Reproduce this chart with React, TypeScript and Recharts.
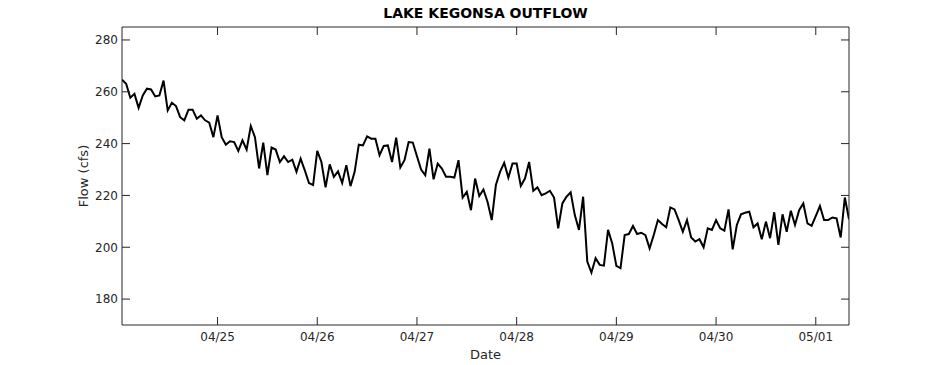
import React from 'react';
import { LineChart, Line, XAxis, YAxis } from 'recharts';

// hourly outflow readings, starting 04/24 01:00
const flow = [
	264.7, 263.1, 257.7, 259.2, 253.8, 258.6, 261.2, 260.9, 258.2, 258.6,
	264.3, 252.8, 255.8, 254.5, 250.2, 249.0, 253.1, 253.1, 249.6, 250.9,
	249.0, 248.1, 242.5, 250.9, 242.5, 239.6, 240.9, 240.6, 237.2, 241.3,
	237.7, 246.8, 242.5, 230.4, 240.4, 227.8, 238.5, 237.7, 232.9, 235.1,
	232.9, 233.8, 229.1, 234.2, 229.7, 224.8, 224.0, 237.2, 232.9, 223.1,
	232.0, 227.2, 229.3, 224.8, 231.7, 223.6, 229.1, 239.6, 239.3, 242.8,
	241.9, 241.9, 235.5, 239.1, 239.3, 232.9, 242.3, 230.8, 233.6, 240.6,
	240.4, 235.1, 230.0, 227.8, 238.1, 226.2, 232.3, 230.4, 227.2, 227.2,
	226.9, 233.6, 219.2, 221.4, 214.3, 226.5, 219.8, 222.3, 217.5, 210.5,
	224.0, 229.1, 232.6, 226.9, 232.3, 232.3, 223.7, 226.5, 232.9, 221.8,
	223.1, 220.1, 220.8, 221.8, 219.2, 207.3, 216.9, 219.5, 221.2, 212.4,
	206.7, 219.5, 194.5, 190.2, 195.8, 193.2, 192.9, 206.7, 201.5, 192.8,
	191.9, 204.7, 205.1, 208.2, 205.1, 205.6, 204.7, 199.6, 204.7, 210.5,
	209.0, 207.7, 215.4, 214.6, 210.5, 206.0, 210.5, 203.8, 202.2, 203.1,
	200.0, 207.3, 206.7, 210.5, 207.3, 206.4, 214.6, 199.2, 208.6, 212.7,
	213.3, 213.7, 207.7, 209.2, 203.1, 209.9, 203.5, 213.5, 200.9, 212.7,
	206.0, 214.1, 208.6, 214.3, 216.9, 209.2, 208.3, 212.0, 215.9, 210.5,
	210.5, 211.5, 211.2, 203.8, 219.2, 210.8
];

// tick positions in hours since 04/24 00:00
const dayTicks = [24, 48, 72, 96, 120, 144, 168];
const dayLabels = ['04/25', '04/26', '04/27', '04/28', '04/29', '04/30', '05/01'];
const flowTicks = [180, 200, 220, 240, 260, 280];

const data = flow.map((f, i) => ({ hour: i + 1, flow: f }));

const ink = '#262626';
const font = 'DejaVu Sans, sans-serif';
const tickStyle = { fontSize: 12, fill: ink, fontFamily: font };

export default function App() {
	return (
		<div style={{ position: 'absolute', left: 0, top: 0, width: 938, height: 365, background: '#fff' }}>
			<LineChart
				width={938}
				height={365}
				data={data}
				margin={{ top: 26, right: 88, left: 0, bottom: 0 }}
			>
				<XAxis
					xAxisId="b"
					dataKey="hour"
					type="number"
					domain={[1, 176]}
					ticks={dayTicks}
					tickFormatter={(v) => dayLabels[dayTicks.indexOf(v)]}
					height={40}
					tickSize={-8}
					tickMargin={15}
					tick={tickStyle}
					stroke={ink}
					allowDataOverflow
				/>
				<XAxis
					xAxisId="t"
					orientation="top"
					dataKey="hour"
					type="number"
					domain={[1, 176]}
					ticks={dayTicks}
					height={1}
					tickSize={-8}
					tickFormatter={() => ''}
					stroke={ink}
					allowDataOverflow
				/>
				<YAxis
					yAxisId="l"
					domain={[170, 285]}
					ticks={flowTicks}
					width={122}
					tickSize={-8}
					tickMargin={12}
					tick={tickStyle}
					stroke={ink}
					allowDataOverflow
				/>
				<YAxis
					yAxisId="r"
					orientation="right"
					domain={[170, 285]}
					ticks={flowTicks}
					width={1}
					tickSize={-8}
					tickFormatter={() => ''}
					stroke={ink}
					allowDataOverflow
				/>
				<Line
					xAxisId="t"
					yAxisId="r"
					dataKey="flow"
					stroke="none"
					dot={false}
					isAnimationActive={false}
				/>
				<Line
					xAxisId="b"
					yAxisId="l"
					dataKey="flow"
					stroke="#000"
					strokeWidth={2}
					dot={false}
					isAnimationActive={false}
				/>
			</LineChart>
			<div style={{ position: 'absolute', left: 122, width: 727, top: 5, textAlign: 'center', fontFamily: font, fontWeight: 'bold', fontSize: 14, color: '#000', lineHeight: '17px' }}>
				LAKE KEGONSA OUTFLOW
			</div>
			<div style={{ position: 'absolute', left: 122, width: 727, top: 346, textAlign: 'center', fontFamily: font, fontSize: 13, color: ink, lineHeight: '17px' }}>
				Date
			</div>
			<div style={{ position: 'absolute', left: 84 - 100, top: 176 - 8, width: 200, height: 16, textAlign: 'center', fontFamily: font, fontSize: 13, color: ink, lineHeight: '16px', transform: 'rotate(-90deg)' }}>
				Flow (cfs)
			</div>
		</div>
	);
}
